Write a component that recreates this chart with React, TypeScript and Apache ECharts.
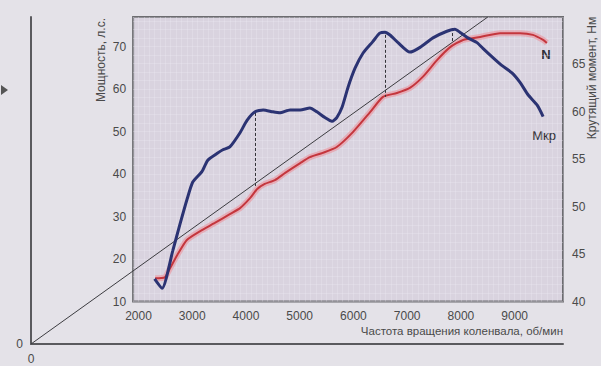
import React, { useEffect, useRef } from "react";
import * as echarts from "echarts";

// Torque curve (Мкр), right axis, Нм
const torqueRpm = [2300, 2440, 2640, 2770, 2900, 3010, 3180, 3290, 3460, 3570, 3700, 3890, 4020, 4170, 4320, 4500, 4630, 4820, 5010, 5190, 5320, 5470, 5600, 5690, 5790, 5900, 6030, 6180, 6360, 6490, 6590, 6680, 6830, 7050, 7240, 7480, 7740, 7890, 7980, 8130, 8300, 8410, 8580, 8760, 8950, 9100, 9250, 9420, 9530];
const torqueNm = [42.4, 41.4, 45.4, 48.1, 50.7, 52.6, 53.7, 54.9, 55.6, 56.0, 56.3, 57.8, 59.1, 60.0, 60.2, 60.0, 59.9, 60.2, 60.2, 60.4, 60.0, 59.4, 59.0, 59.4, 60.5, 62.6, 64.6, 66.2, 67.4, 68.3, 68.4, 68.1, 67.3, 66.3, 66.8, 67.8, 68.5, 68.7, 68.4, 67.8, 67.3, 66.7, 65.8, 64.9, 64.1, 63.1, 61.8, 60.7, 59.5];

// Power curve (N), left axis, л.с.
const powerRpm = [2310, 2490, 2590, 2720, 2900, 3150, 3420, 3700, 3890, 4080, 4210, 4350, 4540, 4730, 5010, 5190, 5430, 5690, 5990, 6310, 6550, 6810, 7050, 7290, 7560, 7800, 8040, 8360, 8730, 9100, 9340, 9530, 9600];
const powerHp = [15.5, 15.7, 17.9, 20.9, 24.5, 26.6, 28.5, 30.6, 32.0, 34.4, 36.5, 37.7, 38.6, 40.3, 42.6, 44.0, 45.0, 46.4, 49.9, 54.6, 58.2, 59.1, 60.3, 62.9, 66.9, 69.9, 71.6, 72.3, 73.2, 73.2, 72.8, 71.6, 70.9];

// Ray from the origin (rpm, л.с.)
const rayRpm = [0, 8500];
const rayHp = [0, 77];

// Dashed verticals: rpm, top and bottom (л.с. scale)
const dashRpm = [4170, 6590, 7830];
const dashTop = [54.4, 72.8, 74.4];
const dashBottom = [37.2, 58.2, 70.9];

const TXT = "#4a4a4a";
const FONT = "Liberation Sans";

export default function App() {
  const ref = useRef<HTMLDivElement>(null);
  useEffect(() => {
    const chart = echarts.init(ref.current!, null, { renderer: "svg" });
    const outerLeft = 31, outerRight = 38, outerTop = 17, outerBottom = 22;
    const W = 601 - outerLeft - outerRight;
    const H = 366 - outerTop - outerBottom;
    const xMax = 9900, yMax = 77;
    const innerLeft = outerLeft + (1900 / xMax) * W;
    const innerBottom = outerBottom + (10 / yMax) * H;

    const option: any = {
      animation: false,
      backgroundColor: "#e4e2e8",
      textStyle: { fontFamily: FONT },
      grid: [
        { left: outerLeft, right: outerRight, top: outerTop, bottom: outerBottom },
        {
          left: innerLeft, right: outerRight, top: outerTop, bottom: innerBottom,
          show: true, backgroundColor: "#d9d3df", borderColor: "#6c6c70", borderWidth: 2,
        },
      ],
      xAxis: [
        {
          type: "value", gridIndex: 0, min: 0, max: xMax, interval: xMax,
          axisLine: { show: true, onZero: false, lineStyle: { color: "#5a5a5e", width: 2 } },
          axisTick: { show: false }, splitLine: { show: false },
          axisLabel: { color: TXT, fontSize: 12, margin: 9, formatter: (v: number) => (v === 0 ? "0" : "") },
        },
        {
          type: "value", gridIndex: 1, min: 1900, max: xMax, interval: 100,
          axisLine: { show: false }, axisTick: { show: false },
          splitLine: { show: true, lineStyle: { color: "rgba(240,236,244,0.3)", width: 1 } },
          axisLabel: {
            color: TXT, fontSize: 12, margin: 8,
            formatter: (v: number) => (v % 1000 === 0 ? String(v) : ""),
          },
        },
      ],
      yAxis: [
        {
          type: "value", gridIndex: 0, min: 0, max: yMax, interval: yMax,
          axisLine: { show: true, onZero: false, lineStyle: { color: "#5a5a5e", width: 2 } },
          axisTick: { show: false }, splitLine: { show: false },
          axisLabel: { color: TXT, fontSize: 12, margin: 8, formatter: (v: number) => (v === 0 ? "0" : "") },
        },
        {
          type: "value", gridIndex: 1, position: "left", min: 10, max: yMax, interval: 2,
          axisLine: { show: false }, axisTick: { show: false },
          splitLine: { show: true, lineStyle: { color: "rgba(240,236,244,0.3)", width: 1 } },
          axisLabel: {
            color: TXT, fontSize: 12, margin: 7,
            formatter: (v: number) => (v % 10 === 0 ? String(v) : ""),
          },
        },
        {
          type: "value", gridIndex: 1, position: "right", min: 40, max: 70, interval: 5,
          axisLine: { show: false }, axisTick: { show: false }, splitLine: { show: false },
          axisLabel: {
            color: TXT, fontSize: 12, margin: 9,
            formatter: (v: number) => (v < 70 ? String(v) : ""),
          },
        },
      ],
      series: [
        {
          type: "line", xAxisIndex: 0, yAxisIndex: 0, symbol: "none", z: 3,
          data: rayRpm.map((x, i) => [x, rayHp[i]]),
          lineStyle: { color: "#3c3c40", width: 1 },
        },
        {
          type: "line", xAxisIndex: 1, yAxisIndex: 1, symbol: "none", smooth: 0.2, z: 2,
          data: powerRpm.map((x, i) => [x, powerHp[i]]),
          lineStyle: { color: "rgba(236,140,150,0.55)", width: 6 },
        },
        {
          type: "line", xAxisIndex: 1, yAxisIndex: 1, symbol: "none", smooth: 0.2, z: 4,
          data: powerRpm.map((x, i) => [x, powerHp[i]]),
          lineStyle: { color: "#c4363d", width: 2 },
          markLine: {
            silent: true, symbol: "none", label: { show: false },
            lineStyle: { color: "#333338", width: 1, type: [3, 2] },
            data: dashRpm.map((x, i) => [{ coord: [x, dashTop[i]] }, { coord: [x, dashBottom[i]] }]),
          },
        },
        {
          type: "line", xAxisIndex: 1, yAxisIndex: 2, symbol: "none", smooth: 0.2, z: 5,
          data: torqueRpm.map((x, i) => [x, torqueNm[i]]),
          lineStyle: { color: "#2b3373", width: 3 },
        },
      ],
      graphic: [
        {
          type: "text", x: 101, y: 60, rotation: Math.PI / 2,
          style: { text: "Мощность, л.с.", fill: TXT, font: `12px ${FONT}`, align: "center", verticalAlign: "middle" },
        },
        {
          type: "text", x: 592, y: 78, rotation: Math.PI / 2,
          style: { text: "Крутящий момент, Нм", fill: TXT, font: `12px ${FONT}`, align: "center", verticalAlign: "middle" },
        },
        {
          type: "text", x: 563, y: 331,
          style: { text: "Частота вращения коленвала, об/мин", fill: TXT, font: `11.5px ${FONT}`, align: "right", verticalAlign: "middle" },
        },
        {
          type: "text", x: 546, y: 54,
          style: { text: "N", fill: "#2e2e34", font: `bold 13px ${FONT}`, align: "center", verticalAlign: "middle" },
        },
        {
          type: "text", x: 544, y: 135,
          style: { text: "Мкр", fill: "#2e2e34", font: `13px ${FONT}`, align: "center", verticalAlign: "middle" },
        },
        {
          type: "polygon",
          shape: { points: [[1, 85], [8, 90], [1, 95]] },
          style: { fill: "#555" },
        },
      ],
    };
    chart.setOption(option);
    return () => chart.dispose();
  }, []);
  return <div ref={ref} style={{ position: "fixed", left: 0, top: 0, width: 601, height: 366 }} />;
}
